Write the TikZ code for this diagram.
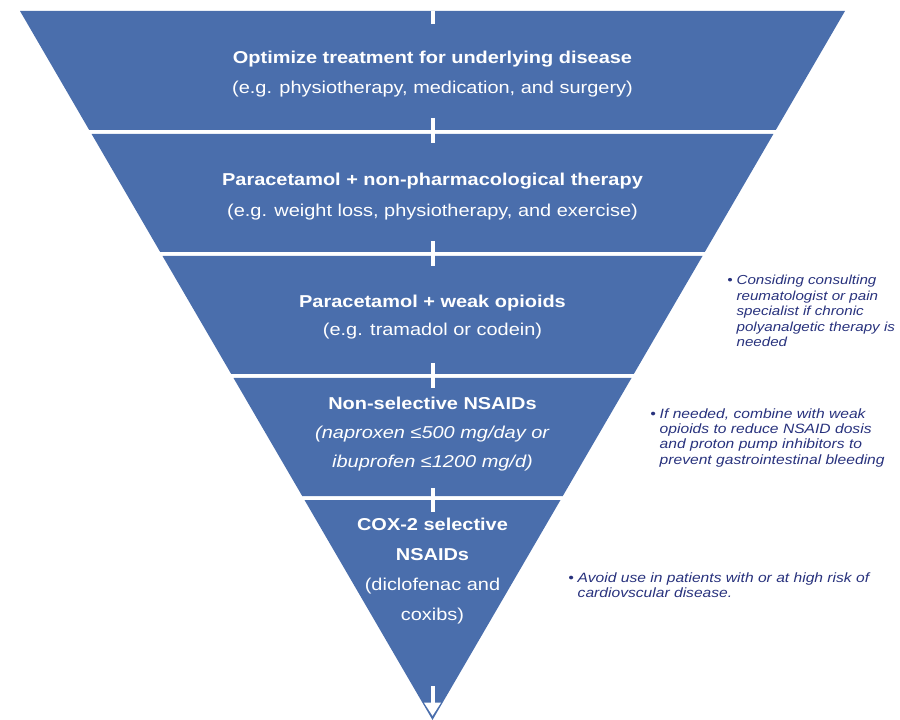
\documentclass[tikz,border=0pt]{standalone}
\usepackage{fontspec}
\setmainfont[FakeStretch=1.16]{Liberation Sans}
\usetikzlibrary{arrows.meta}
\definecolor{bandblue}{RGB}{74,110,172}
\definecolor{notenavy}{RGB}{40,50,125}
\begin{document}
\begin{tikzpicture}[x=0.75pt,y=-0.75pt,
  band/.style={fill=bandblue,draw=none},
  bandtext/.style={text=white,align=center,inner sep=0pt},
  note/.style={text=notenavy,inner sep=0pt,anchor=base west,font=\fontsize{10.1}{11.6}\selectfont\itshape},
  tickline/.style={draw=white,line width=3pt},
  downarrow/.style={draw=white,line width=3pt,-{Triangle[width=12pt 0,length=10pt 0,fill=white]}}]
\useasboundingbox (0,0) rectangle (900,720);
% bands
\path[band] (20,11) -- (845,11) -- (775.8,130) -- (89.2,130) -- cycle;
\path[band] (91.6,134) -- (773.4,134) -- (704.8,252) -- (160.2,252) -- cycle;
\path[band] (162.5,256) -- (702.5,256) -- (633.8,374) -- (231.2,374) -- cycle;
\path[band] (233.5,378) -- (631.5,378) -- (562.8,496) -- (302.2,496) -- cycle;
\path[band] (304.5,500) -- (560.5,500) -- (432.5,720) -- cycle;
% ticks
\coordinate (t0a) at (432.5,11);  \coordinate (t0b) at (432.5,24);
\coordinate (t1a) at (432.5,118); \coordinate (t1b) at (432.5,143);
\coordinate (t2a) at (432.5,241); \coordinate (t2b) at (432.5,266);
\coordinate (t3a) at (432.5,363); \coordinate (t3b) at (432.5,388);
\coordinate (t4a) at (432.5,488); \coordinate (t4b) at (432.5,512);
\coordinate (t5a) at (432.5,686); \coordinate (t5b) at (432.5,716);
\draw[tickline] (t0a) -- (t0b);
\draw[tickline] (t1a) -- (t1b);
\draw[tickline] (t2a) -- (t2b);
\draw[tickline] (t3a) -- (t3b);
\draw[tickline] (t4a) -- (t4b);
\draw[downarrow] (t5a) -- (t5b);
% band texts
\node[bandtext,font=\fontsize{12.9}{23}\selectfont] (l1) at (432.5,74)
  {\textbf{Optimize treatment for underlying disease}\\(e.g. physiotherapy, medication, and surgery)};
\node[bandtext,font=\fontsize{12.9}{23}\selectfont] (l2) at (432.5,196.5)
  {\textbf{Paracetamol + non-pharmacological therapy}\\(e.g. weight loss, physiotherapy, and exercise)};
\node[bandtext,font=\fontsize{12.9}{21}\selectfont] (l3) at (432.5,317)
  {\textbf{Paracetamol + weak opioids}\\(e.g. tramadol or codein)};
\node[bandtext,font=\fontsize{12.9}{21.5}\selectfont] (l4) at (432.5,434)
  {\textbf{Non-selective NSAIDs}\\\textit{(naproxen ≤500 mg/day or}\\\textit{ibuprofen ≤1200 mg/d)}};
\node[bandtext,font=\fontsize{12.9}{22.5}\selectfont] (l5) at (432.5,571)
  {\textbf{COX-2 selective}\\\textbf{NSAIDs}\\(diclofenac and\\coxibs)};
% side notes
\node[note,font=\fontsize{9.8}{11.6}\selectfont\itshape] (n1) at (727,285)
  {\begin{tabular}[t]{@{}l@{\hspace{3pt}}l@{}}•&Considing consulting\\&reumatologist or pain\\&specialist if chronic\\&polyanalgetic therapy is\\&needed\end{tabular}};
\node[note] (n2) at (650,418)
  {\begin{tabular}[t]{@{}l@{\hspace{3pt}}l@{}}•&If needed, combine with weak\\&opioids to reduce NSAID dosis\\&and proton pump inhibitors to\\&prevent gastrointestinal bleeding\end{tabular}};
\node[note] (n3) at (568,582)
  {\begin{tabular}[t]{@{}l@{\hspace{3pt}}l@{}}•&Avoid use in patients with or at high risk of\\&cardiovscular disease.\end{tabular}};
\end{tikzpicture}
\end{document}
